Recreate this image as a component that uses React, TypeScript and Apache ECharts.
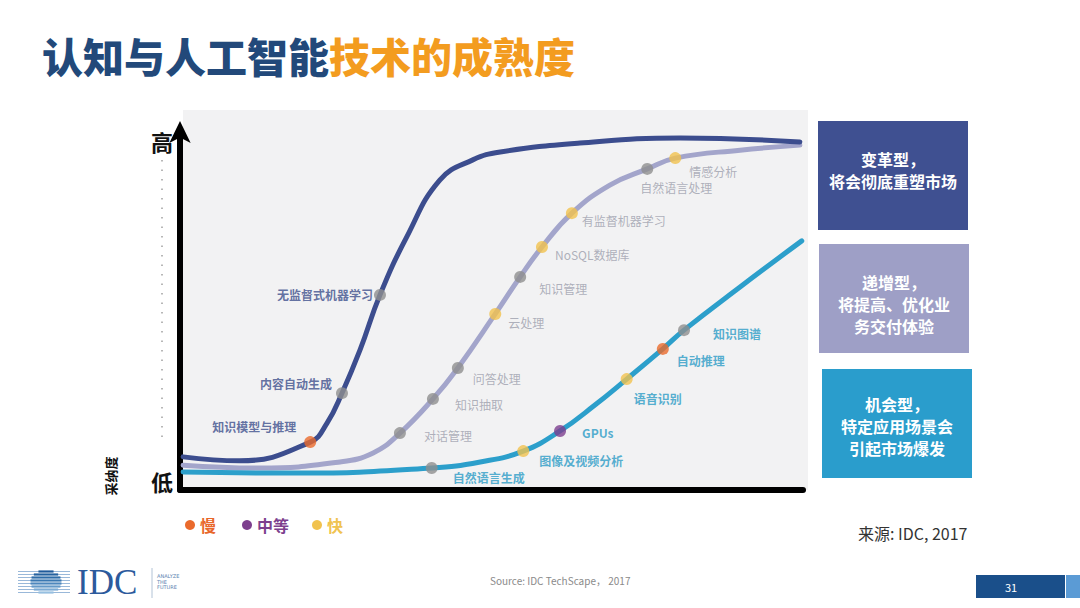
import React, { useEffect, useRef } from "react";
import * as echarts from "echarts";

// ---------- data ----------
const transformativeCurve: number[][] = [
  [0.5, 9.2], [9.6, 8.1], [20.9, 13.3], [23.6, 18.6], [26.0, 26.9], [28.9, 38.9],
  [32.1, 54.2], [36.4, 70.3], [41.7, 86.1], [47.0, 91.7], [51.4, 93.9], [64.2, 96.4],
  [80.3, 97.8], [99.5, 96.7],
];
const incrementalCurve: number[][] = [
  [0.5, 6.9], [12.8, 6.1], [25.7, 7.8], [31.0, 10.3], [35.3, 15.8], [40.6, 25.3],
  [44.6, 33.9], [50.6, 48.9], [54.6, 59.2], [58.1, 67.5], [62.9, 76.9], [69.0, 84.7],
  [75.0, 89.2], [79.5, 92.2], [89.9, 94.4], [99.5, 95.8],
];
const opportunisticCurve: number[][] = [
  [0.5, 5.0], [19.3, 4.7], [40.4, 6.1], [48.2, 7.8], [55.1, 10.8], [61.0, 16.4],
  [66.6, 23.6], [71.7, 30.8], [77.5, 39.2], [80.9, 44.4], [89.9, 56.4], [99.8, 69.2],
];

// milestones: [name, x, y, speed]
const transformativeMilestones: [string, number, number, string][] = [
  ["知识模型与推理", 20.9, 13.3, "慢"],
  ["内容自动生成", 26.0, 26.9, "无"],
  ["无监督式机器学习", 32.1, 54.2, "无"],
];
const incrementalMilestones: [string, number, number, string][] = [
  ["对话管理", 35.3, 15.8, "无"],
  ["知识抽取", 40.6, 25.3, "无"],
  ["问答处理", 44.6, 33.9, "无"],
  ["云处理", 50.6, 48.9, "快"],
  ["知识管理", 54.6, 59.2, "无"],
  ["NoSQL数据库", 58.1, 67.5, "快"],
  ["有监督机器学习", 62.9, 76.9, "快"],
  ["自然语言处理", 75.0, 89.2, "无"],
  ["情感分析", 79.5, 92.2, "快"],
];
const opportunisticMilestones: [string, number, number, string][] = [
  ["自然语言生成", 40.4, 6.1, "无"],
  ["图像及视频分析", 55.1, 10.8, "快"],
  ["GPUs", 61.0, 16.4, "中等"],
  ["语音识别", 71.7, 30.8, "快"],
  ["自动推理", 77.5, 39.2, "慢"],
  ["知识图谱", 80.9, 44.4, "无"],
];

const legendItems = ["慢", "中等", "快"];
const boxTexts: string[][] = [
  ["变革型，", "将会彻底重塑市场"],
  ["递增型，", "将提高、优化业", "务交付体验"],
  ["机会型，", "特定应用场景会", "引起市场爆发"],
];

// ---------- styles ----------
const CJK = '"Noto Sans CJK SC", "Noto Sans", sans-serif';
const curveColors = ["#3c4d8e", "#a3a5cb", "#2c9fcb"];
const labelColors = ["#3d4f8c", "#9c9eac", "#2b9bc6"];
const labelWeights = ["bold", "normal", "bold"];
const speedColors: Record<string, string> = {
  慢: "#ea6a2c",
  中等: "#7d3f8e",
  快: "#f1c24e",
  无: "#8f8f8f",
};
const legendTextColors: Record<string, string> = {
  慢: "#e8672a",
  中等: "#7d3f8e",
  快: "#f0c350",
};
const boxColors = ["#3f5091", "#9e9fc6", "#2a9dcc"];

// label placement relative to the dot centre: [dx, dy, align]
const labelLayout: Record<string, [number, number, string]> = {
  知识模型与推理: [-14, -16, "right"],
  内容自动生成: [-10, -10, "right"],
  无监督式机器学习: [-7, 0, "right"],
  对话管理: [24, 2, "left"],
  知识抽取: [22, 6, "left"],
  问答处理: [15, 11, "left"],
  云处理: [13, 9, "left"],
  知识管理: [19, 12, "left"],
  NoSQL数据库: [13, 7, "left"],
  有监督机器学习: [10, 7, "left"],
  自然语言处理: [-7, 19, "left"],
  情感分析: [14, 13, "left"],
  自然语言生成: [21, 9, "left"],
  图像及视频分析: [16, 9, "left"],
  GPUs: [22, 2, "left"],
  语音识别: [7, 19, "left"],
  自动推理: [14, 12, "left"],
  知识图谱: [29, 3, "left"],
};

const DOT = 12;

function milestoneSeries(list: [string, number, number, string][], idx: number) {
  return {
    type: "scatter",
    z: 5,
    symbolSize: DOT,
    data: list.map(([name, x, y, speed]) => {
      const [dx, dy, align] = labelLayout[name];
      return {
        name,
        value: [x, y],
        itemStyle: { color: speedColors[speed] },
        label: {
          show: true,
          formatter: name,
          position: [DOT / 2 + dx, DOT / 2 + dy],
          align,
          verticalAlign: "middle",
          color: labelColors[idx],
          fontWeight: labelWeights[idx],
          fontSize: 12,
          fontFamily: CJK,
        },
      };
    }),
  };
}

function lineSeries(data: number[][], idx: number, z: number) {
  return {
    type: "line",
    z,
    data,
    smooth: 0.45,
    showSymbol: false,
    silent: true,
    lineStyle: { color: curveColors[idx], width: 5, cap: "round" },
  };
}

function buildGraphics() {
  const g: any[] = [];
  // chart backdrop
  g.push({ type: "rect", z: -10, silent: true, shape: { x: 183, y: 110, width: 625, height: 380 }, style: { fill: "#f2f2f3" } });
  // title
  g.push({
    type: "text",
    left: 42,
    top: 34,
    style: {
      text: "{a|认知与人工智能}{b|技术的成熟度}",
      rich: {
        a: { fontSize: 41, fontWeight: 900, fontFamily: CJK, fill: "#22497a", color: "#22497a" },
        b: { fontSize: 41, fontWeight: 900, fontFamily: CJK, fill: "#f39c1f", color: "#f39c1f" },
      },
    },
  });
  // axis words
  g.push({ type: "text", x: 162, y: 141, style: { text: "高", font: `bold 22px ${CJK}`, fill: "#111", align: "center", verticalAlign: "middle" } });
  g.push({ type: "text", x: 162, y: 481, style: { text: "低", font: `bold 22px ${CJK}`, fill: "#111", align: "center", verticalAlign: "middle" } });
  g.push({ type: "line", shape: { x1: 162, y1: 160, x2: 162, y2: 445 }, style: { stroke: "#a0a0a0", lineWidth: 1.5, lineDash: [1.5, 8] } });
  g.push({ type: "text", x: 110, y: 476, rotation: Math.PI / 2, style: { text: "采纳度", font: `bold 13px ${CJK}`, fill: "#111", align: "center", verticalAlign: "middle" } });
  // legend
  let lx = 190;
  legendItems.forEach((k) => {
    g.push({ type: "circle", shape: { cx: lx, cy: 525, r: 5 }, style: { fill: speedColors[k] } });
    g.push({ type: "text", x: lx + 10, y: 525, style: { text: k, font: `bold 16px ${CJK}`, fill: legendTextColors[k], verticalAlign: "middle" } });
    lx += k.length === 1 ? 57 : 70;
  });
  // right boxes
  const boxY = [121, 244, 369];
  const boxX = [818, 819, 822];
  const firstLine = [38, 38, 35];
  boxTexts.forEach((lines, i) => {
    g.push({ type: "rect", shape: { x: boxX[i], y: boxY[i], width: 150, height: 109 }, style: { fill: boxColors[i] } });
    const lh = 21.8;
    lines.forEach((t, j) => {
      g.push({
        type: "text",
        x: boxX[i] + 75,
        y: boxY[i] + firstLine[i] + j * lh,
        style: { text: t, font: `bold 16px ${CJK}`, fill: "#ffffff", align: "center", verticalAlign: "middle" },
      });
    });
  });
  g.push({ type: "text", x: 858, y: 533, style: { text: "来源: IDC, 2017", font: `16px ${CJK}`, fill: "#333", verticalAlign: "middle" } });
  // footer source
  g.push({ type: "text", x: 490, y: 580, style: { text: "Source: IDC TechScape， 2017", font: `10px ${CJK}`, fill: "#8a8a8a", verticalAlign: "middle" } });
  // page number
  g.push({ type: "rect", shape: { x: 976, y: 575, width: 89, height: 23 }, style: { fill: "#1a4f8a" } });
  g.push({ type: "rect", shape: { x: 1066, y: 575, width: 14, height: 23 }, style: { fill: "#5b9bd5" } });
  g.push({ type: "text", x: 1011, y: 586.5, style: { text: "31", font: `11px ${CJK}`, fill: "#fff", align: "center", verticalAlign: "middle" } });
  // IDC logo
  const cx = 46, cy = 582, r = 12;
  for (let k = 0; k < 8; k++) {
    const yy = cy - 10.5 + k * 3;
    g.push({ type: "line", shape: { x1: 18, y1: yy, x2: 70, y2: yy }, style: { stroke: "#7fa6cf", lineWidth: 0.8 } });
    const dy = yy - cy;
    const half = Math.sqrt(Math.max(0, r * r - dy * dy)) * 1.3;
    const shade = ["#1f5a9a", "#25629f", "#2d6ca8", "#3a78b2", "#4d87bd", "#6499c8", "#7cabd4", "#96bfe0"][k];
    g.push({ type: "rect", shape: { x: cx - half, y: yy - 1.1, width: half * 2, height: 2.2 }, style: { fill: shade } });
  }
  g.push({ type: "text", x: 77, y: 582, style: { text: "IDC", font: `35px "Liberation Serif", serif`, fill: "#2c5a9c", verticalAlign: "middle" } });
  g.push({ type: "line", shape: { x1: 152, y1: 568, x2: 152, y2: 598 }, style: { stroke: "#9fb4cc", lineWidth: 0.8 } });
  ["ANALYZE", "THE", "FUTURE"].forEach((t, i) => {
    g.push({ type: "text", x: 157, y: 576 + i * 5.5, style: { text: t, font: `5px "DejaVu Sans", sans-serif`, fill: "#5a7fb0", verticalAlign: "middle" } });
  });
  return g;
}

export default function App() {
  const ref = useRef<HTMLDivElement>(null);
  useEffect(() => {
    if (!ref.current) return;
    const chart = echarts.init(ref.current, undefined, { renderer: "svg" });
    chart.setOption({
      animation: false,
      backgroundColor: "#ffffff",
      grid: { left: 180, right: 277, top: 130, bottom: 118 },
      xAxis: {
        type: "value",
        min: 0,
        max: 100,
        axisLine: { show: true, onZero: false, lineStyle: { color: "#000", width: 6 } },
        axisTick: { show: false },
        axisLabel: { show: false },
        splitLine: { show: false },
      },
      yAxis: {
        type: "value",
        min: 0,
        max: 100,
        axisLine: {
          show: true,
          onZero: false,
          symbol: ["none", "arrow"],
          symbolSize: [16, 22],
          symbolOffset: [0, 9],
          lineStyle: { color: "#000", width: 6 },
        },
        axisTick: { show: false },
        axisLabel: { show: false },
        splitLine: { show: false },
      },
      series: [
        lineSeries(incrementalCurve, 1, 2),
        lineSeries(transformativeCurve, 0, 3),
        lineSeries(opportunisticCurve, 2, 3),
        milestoneSeries(transformativeMilestones, 0),
        milestoneSeries(incrementalMilestones, 1),
        milestoneSeries(opportunisticMilestones, 2),
      ],
      graphic: buildGraphics(),
    });
    return () => chart.dispose();
  }, []);
  return <div ref={ref} style={{ position: "fixed", left: 0, top: 0, width: 1080, height: 608 }} />;
}
